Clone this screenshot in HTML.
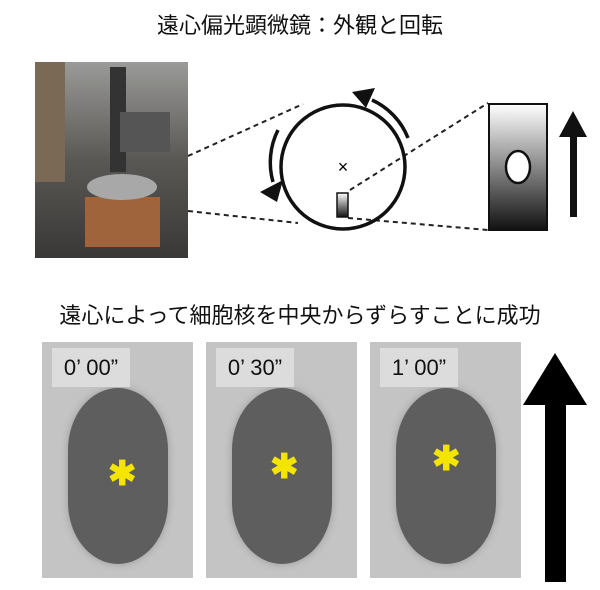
<!DOCTYPE html><html><head><meta charset="utf-8"><style>
body{margin:0;width:600px;height:590px;background:#fff;position:relative;overflow:hidden;font-family:"Liberation Sans","Noto Sans CJK JP",sans-serif}
.t{position:absolute;left:0;width:600px;text-align:center;font-size:22px;color:#111}
.p{position:absolute;top:342px;width:151px;height:236px;background:#c4c4c4;overflow:hidden}
.c{position:absolute;left:26px;top:46px;width:100px;height:176px;border-radius:50px/62px;background:#5e5e5e;box-shadow:0 0 8px #999}
.l{position:absolute;left:10px;top:6px;width:78px;height:39px;background:#dcdcdc;font-size:22px;line-height:39px;text-align:center;color:#111}
.s{position:absolute;font-size:34px;color:#f3e500;font-weight:bold;line-height:1}
</style></head><body>
<div class="t" style="top:8px">遠心偏光顕微鏡：外観と回転</div>
<div class="t" style="top:298px">遠心によって細胞核を中央からずらすことに成功</div>
<div style="position:absolute;left:35px;top:62px;width:153px;height:196px;background:linear-gradient(#9a9a98,#5a5855 50%,#3a3836);">
<div style="position:absolute;left:0;top:0;width:30px;height:120px;background:#7a6a55"></div>
<div style="position:absolute;left:50px;top:135px;width:75px;height:50px;background:#a0643c"></div>
<div style="position:absolute;left:52px;top:112px;width:70px;height:26px;border-radius:50%;background:#a8a8a8"></div>
<div style="position:absolute;left:75px;top:5px;width:16px;height:105px;background:#333"></div>
<div style="position:absolute;left:85px;top:50px;width:50px;height:40px;background:#555"></div></div>
<svg style="position:absolute;left:0;top:0" width="600" height="300">
<g stroke="#222" stroke-width="2" stroke-dasharray="5,4" fill="none">
<line x1="188" y1="156" x2="303" y2="104"/><line x1="188" y1="211" x2="298" y2="223"/>
<line x1="350" y1="190" x2="488" y2="103"/><line x1="348" y1="218" x2="488" y2="230"/></g>
<circle cx="343" cy="167" r="62" fill="none" stroke="#111" stroke-width="3.5"/>
<text x="343" y="173" font-size="18" text-anchor="middle" font-family="Liberation Sans">×</text>
<defs><linearGradient id="g" x1="0" y1="0" x2="0" y2="1"><stop offset="0" stop-color="#fff"/><stop offset="1" stop-color="#111"/></linearGradient></defs>
<rect x="337" y="193" width="11" height="24" fill="url(#g)" stroke="#111" stroke-width="1.5"/>
<rect x="489" y="104" width="58" height="126" fill="url(#g)" stroke="#111" stroke-width="2"/>
<ellipse cx="518" cy="167" rx="12" ry="16" fill="#fff" stroke="#111" stroke-width="2.5"/>
<rect x="570" y="135" width="7" height="82" fill="#111"/><polygon points="559,137 573,111 587,137" fill="#111"/>
<path d="M408,138 A70,70 0 0 0 372,100" fill="none" stroke="#111" stroke-width="3.5"/>
<polygon points="352,92 375,88 366,108" fill="#111"/>
<path d="M278,130 A72,72 0 0 0 273,182" fill="none" stroke="#111" stroke-width="3.5"/>
<polygon points="260,192 283,180 277,202" fill="#111"/>
</svg>
<div class="p" style="left:42px"><div class="c"></div><div class="l">0’ 00”</div><div class="s" style="left:66px;top:115px">✱</div></div>
<div class="p" style="left:206px"><div class="c"></div><div class="l">0’ 30”</div><div class="s" style="left:64px;top:108px">✱</div></div>
<div class="p" style="left:370px"><div class="c"></div><div class="l">1’ 00”</div><div class="s" style="left:62px;top:100px">✱</div></div>
<svg style="position:absolute;left:518px;top:350px" width="80" height="235"><polygon points="5,55 37,3 69,55" fill="#000"/><rect x="27" y="54" width="21" height="178" fill="#000"/></svg>
</body></html>
